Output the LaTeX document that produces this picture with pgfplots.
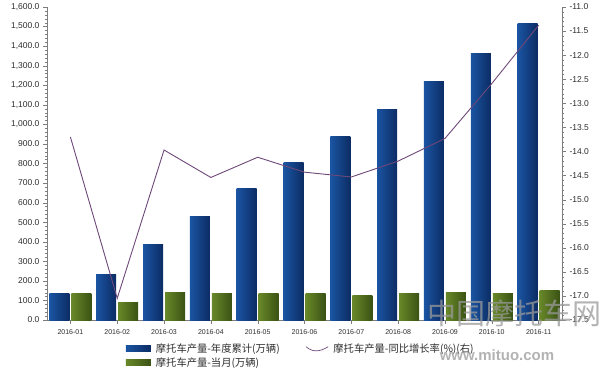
\documentclass[border=0pt]{standalone}
\usepackage{pgfplots}
\pgfplotsset{compat=1.18}
\usepackage{fontspec}
\setmainfont{Liberation Sans}
\newfontfamily\cjk{Noto Sans CJK SC}
\definecolor{bluel}{RGB}{26,84,162}
\definecolor{bluem}{RGB}{34,102,186}
\definecolor{blued}{RGB}{12,44,100}
\definecolor{greenl}{RGB}{104,136,40}
\definecolor{greenm}{RGB}{118,150,48}
\definecolor{greend}{RGB}{58,82,20}
\definecolor{linec}{RGB}{110,72,120}
\definecolor{axisc}{RGB}{125,125,125}
\definecolor{textc}{RGB}{45,45,45}
\tikzset{
  bluebar/.style={draw=none, left color=bluel, middle color=bluem, right color=blued},
  greenbar/.style={draw=none, left color=greenl, middle color=greenm, right color=greend},
}
\begin{document}
\begin{tikzpicture}
\pgfplotsset{
  base/.style={
    scale only axis, width=515pt, height=313pt,
    at={(47pt,53pt)}, anchor=south west,
    xmin=-0.5, xmax=10.5,
    /pgf/number format/assume math mode=true,
    yticklabel style={font=\fontsize{8.5}{10}\selectfont, text=textc},
    xticklabel style={font=\fontsize{7}{8}\selectfont, text=textc, yshift=-2.5pt},
    axis line style={axisc},
    tick style={axisc},
    major tick length=4pt, minor tick length=2pt,
    tick align=outside,
  },
  bb/.style={ybar, bar width=20pt, bar shift=-11pt, bluebar},
  gb/.style={ybar, bar width=20pt, bar shift=11pt, greenbar},
}
\begin{axis}[base,
  ymin=0, ymax=1600,
  axis x line*=bottom, axis y line*=left,
  ytick={0,100,...,1600}, minor y tick num=4,
  yticklabel style={/pgf/number format/.cd, fixed, fixed zerofill, precision=1, 1000 sep={,}},
  xtick={0,...,10},
  xticklabels={2016-01,2016-02,2016-03,2016-04,2016-05,2016-06,2016-07,2016-08,2016-09,2016-10,2016-11},
]
% year-to-date (blue)
\addplot[bb] coordinates {(0,138)};
\addplot[bb] coordinates {(1,235)};
\addplot[bb] coordinates {(2,387)};
\addplot[bb] coordinates {(3,529)};
\addplot[bb] coordinates {(4,670)};
\addplot[bb] coordinates {(5,807)};
\addplot[bb] coordinates {(6,940)};
\addplot[bb] coordinates {(7,1078)};
\addplot[bb] coordinates {(8,1220)};
\addplot[bb] coordinates {(9,1361)};
\addplot[bb] coordinates {(10,1515)};
% monthly (green)
\addplot[gb] coordinates {(0,138)};
\addplot[gb] coordinates {(1,90)};
\addplot[gb] coordinates {(2,142)};
\addplot[gb] coordinates {(3,136)};
\addplot[gb] coordinates {(4,136)};
\addplot[gb] coordinates {(5,136)};
\addplot[gb] coordinates {(6,126)};
\addplot[gb] coordinates {(7,133)};
\addplot[gb] coordinates {(8,140)};
\addplot[gb] coordinates {(9,136)};
\addplot[gb] coordinates {(10,150)};
\end{axis}
\begin{axis}[base,
  ymin=-17.5, ymax=-11,
  axis x line=none, axis y line*=right,
  ytick={-17.5,-17,...,-11}, minor y tick num=4,
  yticklabel style={/pgf/number format/.cd, fixed, fixed zerofill, precision=1},
  legend columns=2,
  legend cell align=left,
  legend style={draw=none, fill=none, at={(0.147,-0.062)}, anchor=north west,
    font=\cjk\fontsize{10.3}{12}\selectfont, text=textc, row sep=0pt,
    /tikz/every odd column/.append style={column sep=3pt},
    /tikz/every even column/.append style={column sep=24pt}},
]
\addlegendimage{legend image code/.code={\fill[bluebar] (0pt,-3pt) rectangle (25pt,3pt);}}
\addlegendentry{摩托车产量-年度累计(万辆)}
\addplot[linec, line width=0.9pt, mark=none, legend image code/.code={\draw[linec, line width=0.7pt] (0pt,2pt) .. controls (7pt,-4pt) and (14pt,-3pt) .. (22pt,2pt);}]
  coordinates {(0,-13.70) (1,-17.05) (2,-13.97) (3,-14.54) (4,-14.12) (5,-14.43) (6,-14.53) (7,-14.20) (8,-13.73) (9,-12.59) (10,-11.38)};
\addlegendentry{摩托车产量-同比增长率(\%)(右)}
\addlegendimage{legend image code/.code={\fill[greenbar] (0pt,-3pt) rectangle (25pt,3pt);}}
\addlegendentry{摩托车产量-当月(万辆)}
\end{axis}
\node[text=gray!80, opacity=0.75, font=\cjk\fontsize{29}{31}\selectfont] at (514pt,60pt) {中国摩托车网};
\node[text=gray!80, opacity=0.75, font=\bfseries\fontsize{15}{17}\selectfont] at (497pt,18pt) {www.mituo.com};
\pgfresetboundingbox
\path[use as bounding box] (0,0) rectangle (600pt,373pt);
\end{tikzpicture}
\end{document}
